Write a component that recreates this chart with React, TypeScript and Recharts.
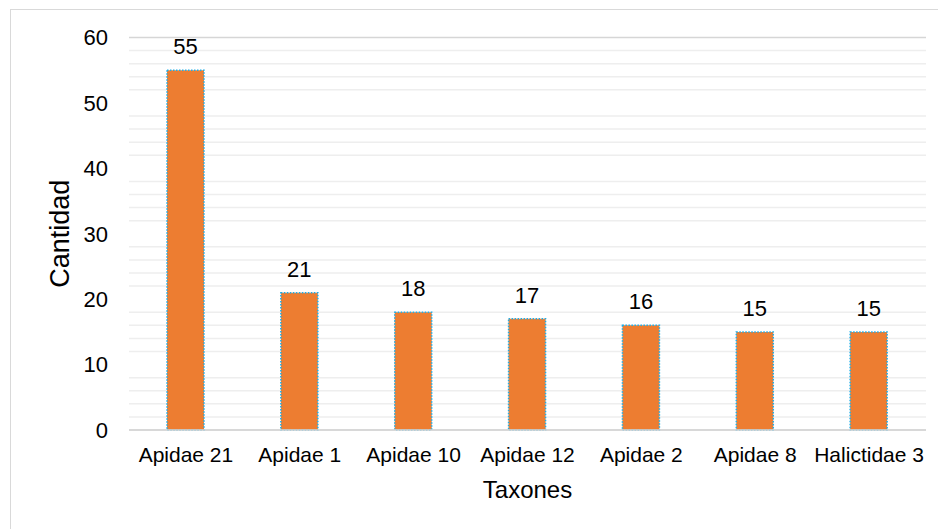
import React from "react";
import { BarChart, Bar, XAxis, YAxis, CartesianGrid, LabelList, ReferenceLine } from "recharts";

const categories = ["Apidae 21", "Apidae 1", "Apidae 10", "Apidae 12", "Apidae 2", "Apidae 8", "Halictidae 3"];
const cantidad = [55, 21, 18, 17, 16, 15, 15];
const majorTicks = [0, 10, 20, 30, 40, 50, 60];
const minorTicks = [2, 4, 6, 8, 12, 14, 16, 18, 22, 24, 26, 28, 32, 34, 36, 38, 42, 44, 46, 48, 52, 54, 56, 58];

const data = categories.map((name, i) => ({ name, value: cantidad[i] }));

const FONT = "'Liberation Sans', Arial, sans-serif";
const W = 926;
const H = 518;
const MARGIN = { top: 27.5, right: 11, bottom: 0, left: 0 };

export default function App() {
  return (
    <div
      style={{
        position: "absolute",
        left: 10,
        top: 9,
        width: 927,
        height: 519,
        borderTop: "1px solid #d9d9d9",
        borderLeft: "1px solid #d9d9d9",
        fontFamily: FONT,
      }}
    >
      {/* background layer: gridlines */}
      <div style={{ position: "absolute", left: 0, top: 0 }}>
        <BarChart width={W} height={H} data={data} margin={MARGIN} barSize={37}>
          <CartesianGrid vertical={false} stroke="#d6d6d6" strokeWidth={1.5} />
          {minorTicks.map((t) => (
            <ReferenceLine key={t} y={t} stroke="#eeeeee" strokeWidth={1.5} />
          ))}
          <YAxis domain={[0, 60]} ticks={majorTicks} type="number" width={118} axisLine={false} tickLine={false} tick={false} />
          <XAxis dataKey="name" height={98} axisLine={false} tickLine={false} tick={false} />
          <Bar dataKey="value" fill="none" stroke="none" isAnimationActive={false} />
        </BarChart>
      </div>
      {/* foreground layer: axes, bars, labels */}
      <div style={{ position: "absolute", left: 0, top: 0 }}>
        <BarChart width={W} height={H} data={data} margin={MARGIN} barSize={37}>
          <YAxis
            domain={[0, 60]}
            ticks={majorTicks}
            type="number"
            width={118}
            axisLine={false}
            tickLine={false}
            tickSize={0}
            tickMargin={21}
            tick={{ fill: "#000", fontSize: 22, fontFamily: FONT }}
            label={{
              value: "Cantidad",
              angle: -90,
              position: "insideLeft",
              offset: 48,
              style: { textAnchor: "middle", fill: "#000", fontSize: 27, fontFamily: FONT },
            }}
          />
          <XAxis
            dataKey="name"
            height={98}
            axisLine={{ stroke: "#d6d6d6", strokeWidth: 1.5 }}
            tickLine={false}
            tickSize={0}
            tickMargin={17}
            interval={0}
            tick={{ fill: "#000", fontSize: 21, fontFamily: FONT }}
            label={{
              value: "Taxones",
              position: "insideBottom",
              offset: 30,
              style: { fill: "#000", fontSize: 24, fontFamily: FONT },
            }}
          />
          <Bar
            dataKey="value"
            fill="#ED7D31"
            stroke="#1EAEE8"
            strokeWidth={1.5}
            strokeDasharray="1.5 1.5"
            isAnimationActive={false}
          >
            <LabelList
              dataKey="value"
              position="top"
              offset={16}
              style={{ fill: "#000", fontSize: 22, fontFamily: FONT }}
            />
          </Bar>
        </BarChart>
      </div>
    </div>
  );
}
